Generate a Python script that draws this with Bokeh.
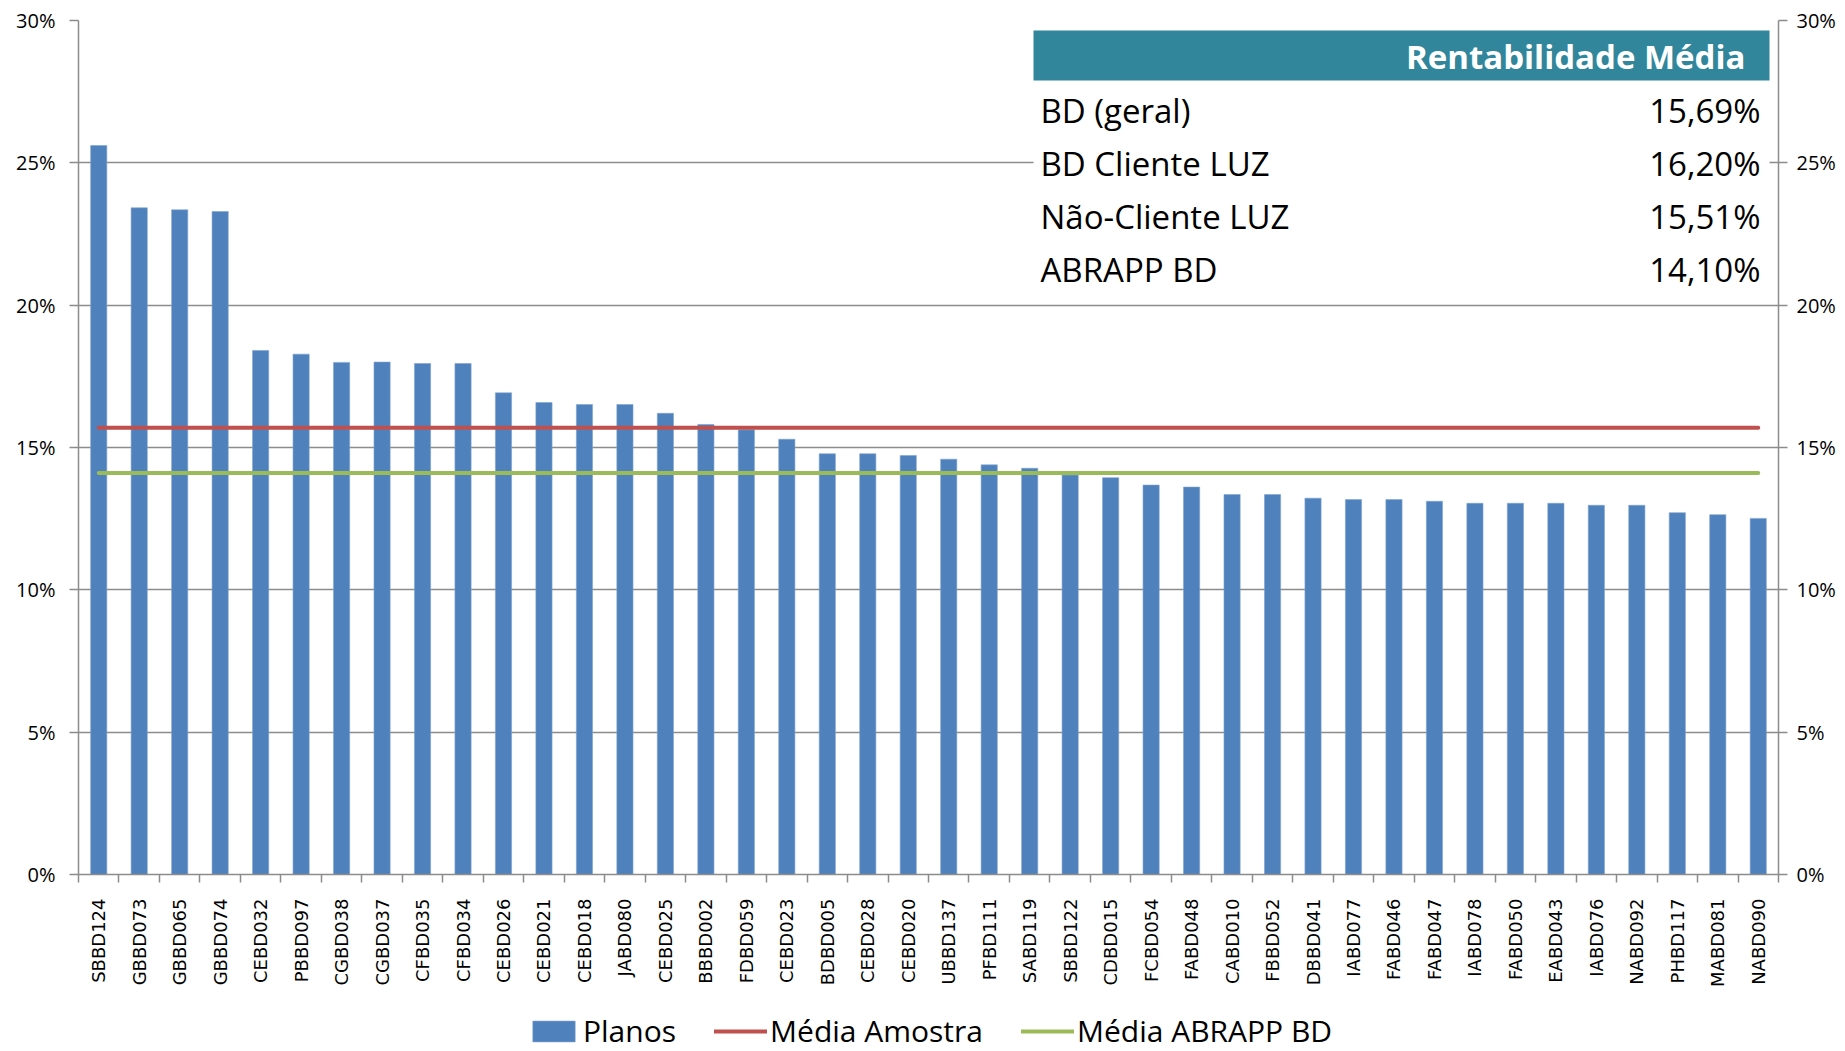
import math
from bokeh.plotting import figure
from bokeh.layouts import column
from bokeh.models import (Range1d, FixedTicker, LinearAxis, PrintfTickFormatter,
                          BoxAnnotation, Label, Legend, LegendItem, ColumnDataSource)
from bokeh.embed import file_html
from bokeh.resources import INLINE

# ---------------- data ----------------
planos = ["SBBD124", "GBBD073", "GBBD065", "GBBD074", "CEBD032", "PBBD097", "CGBD038",
          "CGBD037", "CFBD035", "CFBD034", "CEBD026", "CEBD021", "CEBD018", "JABD080",
          "CEBD025", "BBBD002", "FDBD059", "CEBD023", "BDBD005", "CEBD028", "CEBD020",
          "UBBD137", "PFBD111", "SABD119", "SBBD122", "CDBD015", "FCBD054", "FABD048",
          "CABD010", "FBBD052", "DBBD041", "IABD077", "FABD046", "FABD047", "IABD078",
          "FABD050", "EABD043", "IABD076", "NABD092", "PHBD117", "MABD081", "NABD090"]
rentabilidade = [25.61, 23.42, 23.35, 23.29, 18.41, 18.28, 17.99,
                 18.00, 17.95, 17.95, 16.92, 16.58, 16.51, 16.51,
                 16.20, 15.81, 15.62, 15.29, 14.78, 14.78, 14.72,
                 14.59, 14.39, 14.27, 14.03, 13.94, 13.68, 13.61,
                 13.35, 13.35, 13.22, 13.17, 13.17, 13.11, 13.04,
                 13.04, 13.04, 12.97, 12.97, 12.71, 12.64, 12.51]
media_amostra = 15.69
media_abrapp = 14.10
y_ticks = [0, 5, 10, 15, 20, 25, 30]
tabela_titulo = "Rentabilidade Média"
tabela_rotulos = ["BD (geral)", "BD Cliente LUZ", "Não-Cliente LUZ", "ABRAPP BD"]
tabela_valores = [15.69, 16.20, 15.51, 14.10]
legenda = ["Planos", "Média Amostra", "Média ABRAPP BD"]

# ---------------- styles ----------------
FONT = "Open Sans"
BAR = "#4F81BD"
BAR_EDGE = "#7FA2CF"
RED = "#C0504D"
GREEN = "#9BBB59"
GRID = "#8C8C8C"
TEAL = "#31869B"
W = 1845

n = len(planos)
idx = list(range(n))
src = ColumnDataSource(dict(x=idx, top=rentabilidade,
                            amostra=[media_amostra] * n, abrapp=[media_abrapp] * n))

p = figure(width=W, height=1011, output_backend="svg", toolbar_location=None,
           x_range=Range1d(-0.5, n - 0.5), y_range=Range1d(0, 30),
           min_border_left=78, min_border_right=67, min_border_top=20, min_border_bottom=137)
p.outline_line_color = None

bar_style = dict(fill_color=BAR, line_color=BAR_EDGE, line_width=0.6)
red_style = dict(line_color=RED, line_width=4, line_cap="round")
green_style = dict(line_color=GREEN, line_width=4, line_cap="round")

p.vbar(x="x", top="top", width=0.4, bottom=0, source=src, **bar_style)
p.line(x="x", y="amostra", source=src, **red_style)
p.line(x="x", y="abrapp", source=src, **green_style)

# y axes
yt = FixedTicker(ticks=y_ticks)
fmt = PrintfTickFormatter(format="%d%%")


def style_y(ax, standoff):
    ax.ticker = yt
    ax.formatter = fmt
    ax.major_tick_out = 9
    ax.major_tick_in = 0
    ax.minor_tick_out = 0
    ax.minor_tick_in = 0
    ax.axis_line_color = GRID
    ax.axis_line_width = 1.5
    ax.major_tick_line_color = GRID
    ax.major_tick_line_width = 1.5
    ax.major_label_text_font = FONT
    ax.major_label_text_font_size = "20px"
    ax.major_label_text_color = "black"
    ax.major_label_standoff = standoff


style_y(p.yaxis[0], 14)
ar = LinearAxis()
style_y(ar, 9)
p.add_layout(ar, "right")

# x axis: labels at category centres, ticks between categories
xa = p.xaxis[0]
xa.ticker = FixedTicker(ticks=idx, minor_ticks=[i - 0.5 for i in range(n + 1)])
xa.major_label_overrides = {i: planos[i] for i in idx}
xa.major_label_orientation = math.pi / 2
xa.major_tick_out = 0
xa.major_tick_in = 0
xa.minor_tick_out = 8
xa.minor_tick_in = 0
xa.minor_tick_line_color = GRID
xa.minor_tick_line_width = 1.5
xa.axis_line_color = GRID
xa.axis_line_width = 1.5
xa.major_label_text_font = "DejaVu Sans"
xa.major_label_text_font_size = "18px"
xa.major_label_text_color = "black"
xa.major_label_standoff = 16

p.xgrid.visible = False
p.ygrid.ticker = yt
p.ygrid.grid_line_color = GRID
p.ygrid.grid_line_width = 1.5

# summary table (annotation, screen units relative to the frame)
scr = dict(left_units="screen", right_units="screen", bottom_units="screen", top_units="screen")
p.add_layout(BoxAnnotation(left=955, right=1691, bottom=579, top=794,
                           fill_color="white", fill_alpha=1, line_alpha=0, **scr))
p.add_layout(BoxAnnotation(left=955, right=1691, bottom=794, top=844,
                           fill_color=TEAL, fill_alpha=1, line_alpha=0, **scr))
p.add_layout(Label(x=1667, y=818, x_units="screen", y_units="screen", text=tabela_titulo,
                   text_font=FONT, text_font_style="bold", text_font_size="33px",
                   text_color="white", text_align="right", text_baseline="middle"))
for i, (rot, val) in enumerate(zip(tabela_rotulos, tabela_valores)):
    ym = 764 - 53 * i
    p.add_layout(Label(x=962, y=ym, x_units="screen", y_units="screen", text=rot,
                       text_font=FONT, text_font_size="33px", text_color="black",
                       text_align="left", text_baseline="middle"))
    p.add_layout(Label(x=1682, y=ym, x_units="screen", y_units="screen",
                       text=f"{val:.2f}".replace(".", ",") + "%",
                       text_font=FONT, text_font_size="33px", text_color="black",
                       text_align="right", text_baseline="middle"))

# legend strip below the chart (same series, view range set so that only the legend shows)
lg = figure(width=W, height=40, output_backend="svg", toolbar_location=None,
            x_range=Range1d(-0.5, n - 0.5), y_range=Range1d(100, 101),
            x_axis_location=None, y_axis_location=None,
            min_border_left=78, min_border_right=67, min_border_top=0, min_border_bottom=0)
lg.outline_line_color = None
lg.grid.visible = False
r0 = lg.vbar(x="x", top="top", width=0.4, bottom=0, source=src, **bar_style)
r1 = lg.line(x="x", y="amostra", source=src, **red_style)
r2 = lg.line(x="x", y="abrapp", source=src, **green_style)
legend = Legend(items=[LegendItem(label=legenda[0], renderers=[r0]),
                       LegendItem(label=legenda[1], renderers=[r1]),
                       LegendItem(label=legenda[2], renderers=[r2])],
                location=(449, 0), orientation="horizontal",
                glyph_width=53, glyph_height=26, label_standoff=3, spacing=38,
                padding=0, margin=0, border_line_alpha=0, background_fill_alpha=0,
                label_text_font=FONT, label_text_font_size="30px", label_text_color="black")
lg.add_layout(legend, "center")

open("out.html", "w").write(file_html(column(p, lg), INLINE))
